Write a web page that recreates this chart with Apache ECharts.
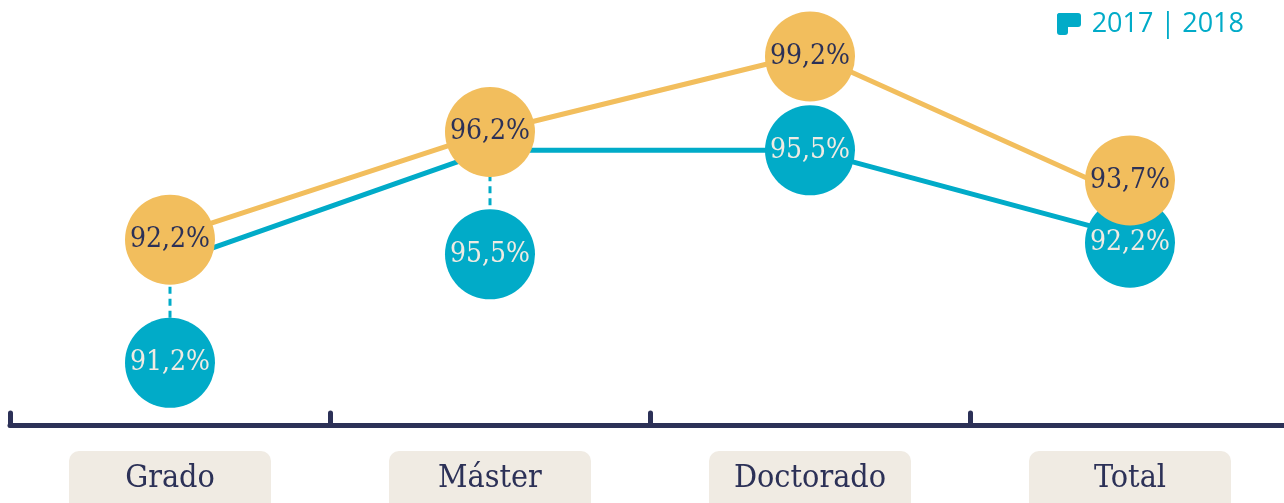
<!DOCTYPE html>
<html>
<head>
<meta charset="utf-8">
<script src="https://cdn.jsdelivr.net/npm/echarts@6/dist/echarts.min.js"></script>
<style>
html,body{margin:0;padding:0;background:#ffffff;}
#chart{width:1284px;height:503px;}
</style>
</head>
<body>
<div id="chart"></div>
<script>
// ---- data ----
var categories = ['Grado', 'Máster', 'Doctorado', 'Total'];
var values2017 = [91.2, 95.5, 95.5, 92.2];
var values2018 = [92.2, 96.2, 99.2, 93.7];
var legendText = '2017 | 2018';

// ---- style / layout (pixel offsets of the bubbles from their points) ----
var BLUE = '#01abc8';
var ORANGE = '#f2be5d';
var NAVY = '#2c3157';
var BEIGE = '#f0ebe3';
var offset2017 = [100, 104, 0, 6];
var offset2018 = [3, 0, 3, -17];
var R = 45;
var LABEL_FONT = '"DejaVu Serif Condensed", "DejaVu Serif", serif';

function fmt(v) { return v.toFixed(1).replace('.', ',') + '%'; }

function bubbleSeries(name, values, offsets, color, textColor, z, dashed) {
  return {
    name: name,
    type: 'custom',
    z: z,
    data: values.map(function (v, i) { return [categories[i], v]; }),
    renderItem: function (params, api) {
      var i = params.dataIndex;
      var v = values[i];
      var p = api.coord([i, v]);
      var dy = offsets[i];
      var children = [];
      if (dashed && dy !== 0) {
        children.push({
          type: 'line',
          shape: { x1: p[0], y1: p[1], x2: p[0], y2: p[1] + dy },
          style: { stroke: color, lineWidth: 3, lineDash: [7, 5] }
        });
      }
      children.push({
        type: 'circle',
        shape: { cx: p[0], cy: p[1] + dy, r: R },
        style: { fill: color }
      });
      children.push({
        type: 'text',
        x: p[0], y: p[1] + dy,
        style: {
          text: fmt(v), fill: textColor,
          font: '28px ' + LABEL_FONT,
          align: 'center', verticalAlign: 'middle'
        }
      });
      return { type: 'group', children: children };
    }
  };
}

var chart = echarts.init(document.getElementById('chart'), null, { renderer: 'canvas' });
chart.setOption({
  animation: false,
  backgroundColor: '#ffffff',
  grid: { left: 10, right: -6, top: 32.6, bottom: 78, containLabel: false, outerBoundsMode: 'none' },
  xAxis: {
    type: 'category',
    data: categories,
    boundaryGap: true,
    axisLine: { onZero: false, lineStyle: { color: NAVY, width: 5, cap: 'round' } },
    axisTick: { show: true, inside: true, length: 12, lineStyle: { color: NAVY, width: 5, cap: 'round' } },
    axisLabel: {
      margin: 26,
      color: NAVY,
      fontSize: 32,
      fontFamily: LABEL_FONT,
      backgroundColor: BEIGE,
      borderRadius: 10,
      width: 202,
      align: 'center',
      lineHeight: 36,
      padding: [10, 0, 30, 0]
    },
    splitLine: { show: false }
  },
  yAxis: {
    type: 'value',
    min: 85, max: 100,
    show: false,
    splitLine: { show: false }
  },
  series: [
    {
      name: '2017', type: 'line', data: values2017, z: 1,
      symbol: 'none', lineStyle: { color: BLUE, width: 5 }
    },
    {
      name: '2018', type: 'line', data: values2018, z: 1,
      symbol: 'none', lineStyle: { color: ORANGE, width: 5 }
    },
    bubbleSeries('2017 bubbles', values2017, offset2017, BLUE, '#f0ebe3', 2, true),
    bubbleSeries('2018 bubbles', values2018, offset2018, ORANGE, NAVY, 3, false)
  ],
  graphic: [
    { type: 'rect', shape: { x: 1057, y: 13, width: 24, height: 14, r: 3 }, style: { fill: BLUE } },
    { type: 'rect', shape: { x: 1057, y: 13, width: 11, height: 22, r: 3 }, style: { fill: BLUE } },
    {
      type: 'text', x: 1244, y: 24,
      style: {
        text: legendText, fill: BLUE,
        font: '500 27px "Open Sans", sans-serif',
        align: 'right', verticalAlign: 'middle'
      }
    }
  ]
});
</script>
</body>
</html>
